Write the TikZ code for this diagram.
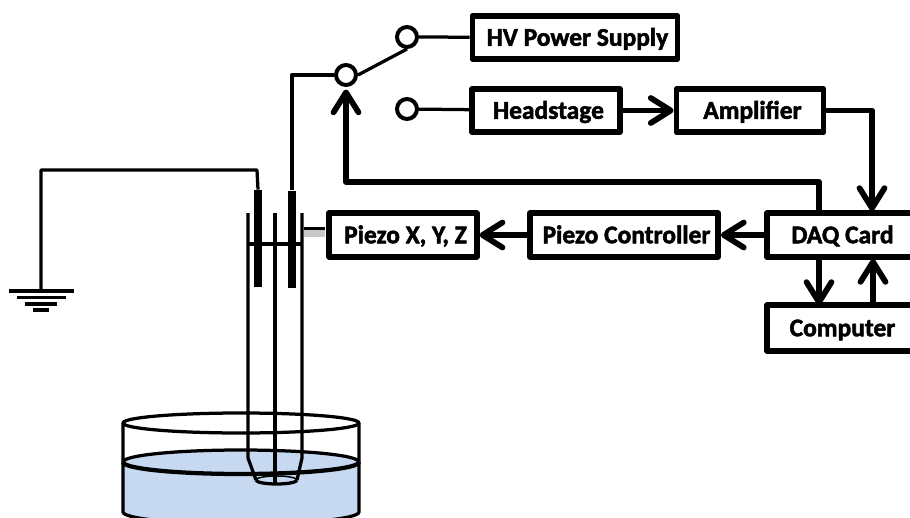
\documentclass[tikz,border=0pt]{standalone}
\usepackage{fontspec}
\setmainfont{Carlito}[BoldFeatures={FakeBold=2}]
\usepackage{xcolor}
\usetikzlibrary{arrows.meta}
\definecolor{waterBlue}{HTML}{C6D9F1}
\definecolor{stageGray}{HTML}{C8C8C8}
\tikzset{
 blockBox/.style={draw,line width=0.115cm,line join=round,fill=white,font=\fontsize{14.5}{16}\selectfont\bfseries,inner sep=0pt,minimum height=0.87cm,text height=0.33cm,text depth=0cm,execute at begin node=\hspace*{0.1cm}},
 switchPin/.style={draw,circle,line width=0.08cm,fill=white,inner sep=0pt,minimum size=0.4cm},
 plateBar/.style={fill=black,inner sep=0pt,minimum width=0.17cm,minimum height=1.94cm},
 thinWire/.style={line width=0.065cm,line join=round},
 earthBar/.style={line width=0.075cm},
 thickWire/.style={line width=0.115cm,line join=round,>={Straight Barb[length=0.4cm,width=0.5cm,round]}}
}

\begin{document}
\begin{tikzpicture}
 \useasboundingbox (0,0) rectangle (18.2,-10.36);
 % Dish
 \fill[waterBlue] (4.82,-9.24) ellipse (2.36 and 0.24);
 \fill[waterBlue] (2.46,-9.24) rectangle (7.18,-10.24);
 \fill[waterBlue] (4.82,-10.24) ellipse (2.36 and 0.24);
 \draw[thinWire] (4.82,-8.46) ellipse (2.36 and 0.2);
 \draw[thinWire] (2.46,-9.24) arc (180:0:2.36 and 0.24);
 \draw[line width=0.085cm] (2.46,-9.24) arc (180:360:2.36 and 0.24);
 \draw[thinWire] (2.46,-8.46) -- (2.46,-10.24) arc (180:360:2.36 and 0.24) -- (7.18,-8.46);
 % Pipettes
 \draw[thinWire] (4.96,-4.26) -- (4.96,-9.16) -- (5.12,-9.6);
 \draw[thinWire] (6.04,-4.26) -- (6.04,-9.16) -- (5.94,-9.6);
 \draw[thinWire] (5.5,-4.26) -- (5.5,-9.7);
 \draw[thinWire] (5.12,-9.6) arc (180:360:0.41 and 0.08);
 \draw[line width=0.03cm] (5.12,-9.6) arc (180:0:0.41 and 0.08);
 \draw[thinWire] (4.96,-4.88) -- (6.04,-4.88);
 \node[plateBar] (leftPlate) at (5.16,-4.77) {};
 \node[plateBar] (rightPlate) at (5.84,-4.78) {};
 % Ground
 \coordinate (earthTop) at (0.82,-5.82);
 \draw[thinWire] (leftPlate.north) -- (5.14,-3.4) -| (earthTop);
 \draw[earthBar] (0.18,-5.82) -- (1.48,-5.82);
 \draw[earthBar] (0.34,-5.95) -- (1.32,-5.95);
 \draw[earthBar] (0.5,-6.08) -- (1.14,-6.08);
 \draw[earthBar] (0.66,-6.2) -- (0.98,-6.2);
 % Blocks
 \node[blockBox,minimum width=4.1cm] (hvSupply) at (11.5,-0.75) {HV Power Supply};
 \node[blockBox,minimum width=2.95cm] (headStage) at (10.92,-2.21) {Headstage};
 \node[blockBox,minimum width=2.94cm] (ampBlock) at (15,-2.21) {Amplifier};
 \node[blockBox,minimum width=2.92cm] (daqCard) at (16.8,-4.7) {DAQ Card};
 \node[blockBox,minimum width=2.92cm,minimum height=0.91cm] (computerBlock) at (16.8,-6.56) {Computer};
 \node[blockBox,minimum width=2.95cm] (piezoStage) at (8.06,-4.7) {Piezo X, Y, Z};
 \node[blockBox,minimum width=3.76cm] (piezoControl) at (12.48,-4.7) {Piezo Controller};
 % Stage link
 \fill[stageGray] (6.08,-4.58) rectangle (6.5,-4.74);
 \draw[thinWire] (6.08,-4.57) -- (6.5,-4.57);
 % Switch
 \node[switchPin] (switchCommon) at (6.92,-1.5) {};
 \node[switchPin] (switchHV) at (8.14,-0.74) {};
 \node[switchPin] (switchHead) at (8.14,-2.18) {};
 \draw[thinWire] (switchCommon) -| (rightPlate.north);
 \draw[thinWire] (switchCommon.east) -- (switchHV.south);
 \draw[thinWire] (switchHV) -- (hvSupply);
 \draw[thinWire] (switchHead) -- (headStage);
 % Signal arrows
 \coordinate (daqRise) at (16.38,-4.22);
 \coordinate (daqIn) at (17.44,-4.22);
 \coordinate (daqLow) at (16.38,-5.18);
 \coordinate (daqBack) at (17.46,-5.18);
 \coordinate (compIn) at (16.38,-6.1);
 \coordinate (compOut) at (17.46,-6.1);
 \draw[thickWire,->] (headStage) -- (ampBlock);
 \draw[thickWire,->] (ampBlock.east) -| (daqIn);
 \draw[thickWire,->,shorten >=0.05cm] (daqRise) |- (6.92,-3.64) -- (switchCommon);
 \draw[thickWire,->] (daqCard) -- (piezoControl);
 \draw[thickWire,->] (piezoControl) -- (piezoStage);
 \draw[thickWire,->] (daqLow) -- (compIn);
 \draw[thickWire,->] (compOut) -- (daqBack);
\end{tikzpicture}
\end{document}
